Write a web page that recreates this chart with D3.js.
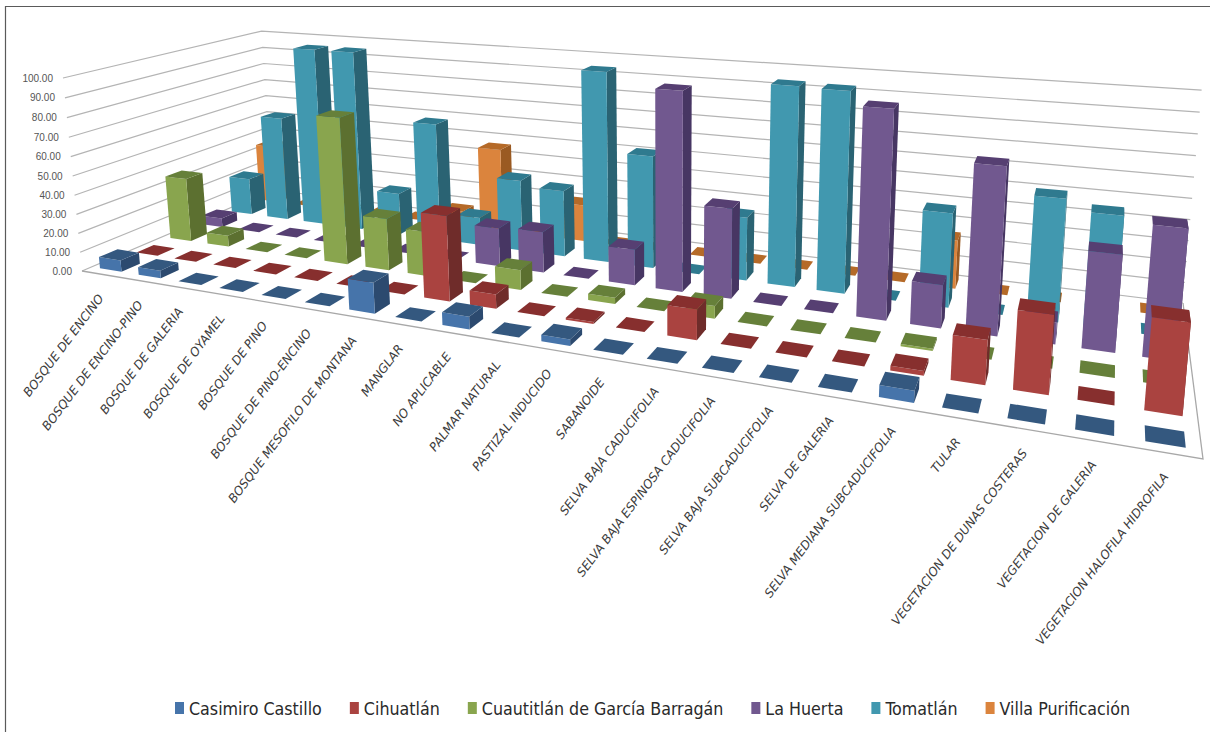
<!DOCTYPE html>
<html>
<head>
<meta charset="utf-8">
<script src="https://cdnjs.cloudflare.com/ajax/libs/d3/7.8.5/d3.min.js"></script>
<style>
html,body{margin:0;padding:0;background:#fff}
svg{display:block}
</style>
</head>
<body>
<svg id="chart" width="1210" height="732"></svg>
<script>
// Vegetation types along the floor of the 3D column chart
const categories = ["BOSQUE DE ENCINO","BOSQUE DE ENCINO-PINO","BOSQUE DE GALERIA","BOSQUE DE OYAMEL","BOSQUE DE PINO","BOSQUE DE PINO-ENCINO","BOSQUE MESOFILO DE MONTANA","MANGLAR","NO APLICABLE","PALMAR NATURAL","PASTIZAL INDUCIDO","SABANOIDE","SELVA BAJA CADUCIFOLIA","SELVA BAJA ESPINOSA CADUCIFOLIA","SELVA BAJA SUBCADUCIFOLIA","SELVA DE GALERIA","SELVA MEDIANA SUBCADUCIFOLIA","TULAR","VEGETACION DE DUNAS COSTERAS","VEGETACION DE GALERIA","VEGETACION HALOFILA HIDROFILA"];
const seriesNames = ["Casimiro Castillo","Cihuatlán","Cuautitlán de García Barragán","La Huerta","Tomatlán","Villa Purificación"];
const yTicks = [0,10,20,30,40,50,60,70,80,90,100];

// Percentage per vegetation type, one list for each municipality
const casimiroCastillo = [6,4,0,0,0,0,15,0,6,0,3,0,0,0,0,0,5,0,0,0,0];
const cihuatlan        = [0,0,0,0,0,0,0,42,7,0,1,0,14,0,0,0,2,19,33,0,37];
const cuautitlan       = [35,6,0,0,77,27,23,0,10,0,3,0,6,0,0,0,1,0,0,0,0];
const laHuerta         = [5,0,0,0,0,0,0,20,21,0,18,98,44,0,0,97,20,76,10,43,57];
const tomatlan         = [21,59,100,100,23,64,15,38,35,99,58,0,32,98.5,98,0,45,0,57,52,0];
const villaPurificacion= [34,0,0,0,0,8,46,0,20,0,0,0,0,0,0,0,24,0,0,0,0];
const seriesValues = [casimiroCastillo,cihuatlan,cuautitlan,laHuerta,tomatlan,villaPurificacion];

// Front, top and side shades for each series
const frontColors = ["#4674aa","#aa4340","#89a54e","#71588f","#4198af","#db843d"];
const topColors   = ["#34587f","#872f2e","#66803a","#563f72","#2f7a8f","#b56a28"];
const sideColors  = ["#2c4a6f","#6f2c2a","#5c7030","#473663","#2a6373","#9a5a22"];

const svg = d3.select("#chart");

// Scales into the unit cube of the chart: u along categories, w into depth, t up
const uScale = d3.scaleBand().domain(categories).range([0,1]).paddingInner(0.44).paddingOuter(0.22);
const wScale = d3.scaleBand().domain(seriesNames).range([0,1]).paddingInner(0.5).paddingOuter(0.25);
const tScale = d3.scaleLinear().domain([0,100]).range([0,1]);

// Perspective camera: floor quad plus the vanishing point of the vertical edges
const P00=[82,271], P10=[1203,459], P11=[1183,303], P01=[272,190];
const T00=[63,78], T11=[1201,97];
const depthWarp = 1.05;
function intersect(a,b,c,d){
  const k1=(b[0]-a[0])/(b[1]-a[1]), k2=(d[0]-c[0])/(d[1]-c[1]);
  const y=(c[0]-a[0]+k1*a[1]-k2*c[1])/(k1-k2);
  return [a[0]+k1*(y-a[1]),y];
}
const VP = intersect(P00,T00,P11,T11);
const dx1=P10[0]-P11[0], dx2=P01[0]-P11[0], sx=P00[0]-P10[0]+P11[0]-P01[0];
const dy1=P10[1]-P11[1], dy2=P01[1]-P11[1], sy=P00[1]-P10[1]+P11[1]-P01[1];
const den=dx1*dy2-dx2*dy1;
const g=(sx*dy2-dx2*sy)/den, h=(dx1*sy-sx*dy1)/den;
const a=P10[0]-P00[0]+g*P10[0], b=P01[0]-P00[0]+h*P01[0], c=P00[0];
const d_=P10[1]-P00[1]+g*P10[1], e=P01[1]-P00[1]+h*P01[1], f=P00[1];
const j=(T00[1]-P00[1])/(VP[1]-T00[1]);
function project(u0,w,t){
  const u=depthWarp*u0/(1+(depthWarp-1)*u0);
  const q=g*u+h*w+1+j*t;
  return [(a*u+b*w+c+j*VP[0]*t)/q,(d_*u+e*w+f+j*VP[1]*t)/q];
}
const line = d3.line();

// Frame around the chart area
svg.append("path").attr("d","M5.5,732V6.5H1210").attr("fill","none").attr("stroke","#5a5a5a").attr("stroke-width",1.2);

// Walls: gridlines on the left and back planes, then the floor outline
const grid = svg.append("g").attr("fill","none").attr("stroke","#b4b4b4").attr("stroke-width",1.2);
yTicks.forEach(v=>{
  const t=tScale(v);
  grid.append("path").attr("d",line([project(0,0,t),project(0,1,t),project(1,1,t)]));
});
svg.append("path").attr("d",line([project(0,0,0),project(1,0,0),project(1,1,0)]))
  .attr("fill","none").attr("stroke","#a8a8a8").attr("stroke-width",1.3);

// Value labels on the left wall
svg.append("g").selectAll("text").data(yTicks).join("text")
  .attr("x",v=>project(0,0,tScale(v))[0]-10)
  .attr("y",v=>project(0,0,tScale(v))[1]+3.5)
  .attr("text-anchor","end")
  .attr("font-family","'Liberation Sans',Arial,sans-serif")
  .attr("font-size",10)
  .attr("fill","#555")
  .text(v=>v.toFixed(2));

// Columns, painted from the back row to the front row, left to right
const bars=[];
for(let s=seriesNames.length-1;s>=0;s--){
  categories.forEach((cat,i)=>bars.push({s,cat,v:seriesValues[s][i]}));
}
const barGroups = svg.append("g").selectAll("g").data(bars).join("g");
barGroups.each(function(d){
  const u0=uScale(d.cat), u1=u0+uScale.bandwidth();
  const w0=wScale(seriesNames[d.s]), w1=w0+wScale.bandwidth();
  const t=tScale(d.v);
  const node=d3.select(this);
  const poly=(pts,fill)=>node.append("path").attr("d",line(pts)+"Z").attr("fill",fill);
  if(t>0){
    poly([project(u1,w0,0),project(u1,w1,0),project(u1,w1,t),project(u1,w0,t)],sideColors[d.s]);
    poly([project(u0,w0,0),project(u1,w0,0),project(u1,w0,t),project(u0,w0,t)],frontColors[d.s]);
  }
  poly([project(u0,w0,t),project(u1,w0,t),project(u1,w1,t),project(u0,w1,t)],topColors[d.s]);
});

// Category labels, slanted under the front edge of the floor
svg.append("g").selectAll("text").data(categories).join("text")
  .attr("transform",cat=>{
    const p=project(uScale(cat)+uScale.bandwidth()/2,0,0);
    return `translate(${p[0]+3},${p[1]+24}) rotate(-53)`;
  })
  .attr("text-anchor","end")
  .attr("font-family","'DejaVu Sans',sans-serif")
  .attr("font-style","italic")
  .attr("font-size",12.2)
  .attr("fill","#3c3c3c")
  .text(cat=>cat);

// Legend along the bottom
const legend = svg.append("g").attr("font-family","'DejaVu Sans Condensed','DejaVu Sans',sans-serif").attr("font-size",17.7).attr("fill","#2a2a2a");
let lx=175;
seriesNames.forEach((name,s)=>{
  legend.append("rect").attr("x",lx).attr("y",702).attr("width",9).attr("height",12).attr("fill",frontColors[s]);
  const label=legend.append("text").attr("x",lx+14).attr("y",715).text(name);
  lx+=14+label.node().getComputedTextLength()+28;
});
</script>
</body>
</html>
